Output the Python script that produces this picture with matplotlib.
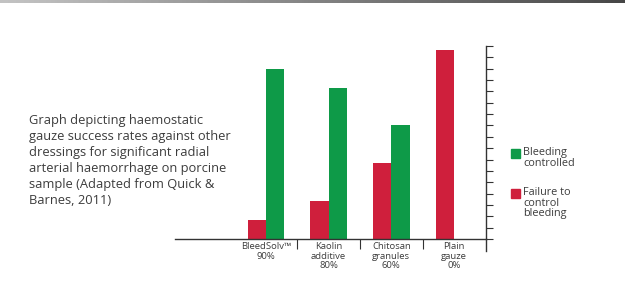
import numpy as np
from matplotlib import pyplot as plt
from matplotlib.patches import Rectangle

# Data (percent of samples)
categories = ["BleedSolv\u2122\n90%", "Kaolin\nadditive\n80%", "Chitosan\ngranules\n60%", "Plain\ngauze\n0%"]
failure = [10, 20, 40, 100]
controlled = [90, 80, 60, 0]
series_names = ["Bleeding\ncontrolled", "Failure to\ncontrol\nbleeding"]
caption = ("Graph depicting haemostatic\ngauze success rates against other\n"
           "dressings for significant radial\narterial haemorrhage on porcine\n"
           "sample (Adapted from Quick &\nBarnes, 2011)")

GREEN = "#0e9a48"
RED = "#cf1f3c"
TEXT = "#3c3c3c"
FONT = "Open Sans"

fig = plt.figure(figsize=(6.25, 2.88), dpi=100)
fig.patch.set_facecolor("white")

# thin grey gradient strip at very top
top = fig.add_axes([0, 1 - 3 / 288, 1, 3 / 288])
top.imshow(np.linspace(0, 1, 256)[None, :], aspect="auto", cmap="Greys", vmin=-0.8, vmax=1.5)
top.axis("off")

ax = fig.add_axes([175 / 625, 1 - 239 / 288, (486 - 175) / 625, (239 - 46) / 288])
x = np.arange(len(categories))
w = 0.29
ax.bar(x - w / 2, failure, w, color=RED)
ax.bar(x + w / 2, controlled, w, color=GREEN)

ax.set_xlim(-1.45, 3.51)
ax.set_ylim(0, 102)

# spines: baseline and right axis only
ax.spines["left"].set_visible(False)
ax.spines["top"].set_visible(False)
for s in ("bottom", "right"):
    ax.spines[s].set_color("#333333")
    ax.spines[s].set_linewidth(1.0)
ax.spines["right"].set_bounds(0, 102)
# right axis extends a little below the baseline
ax.plot([1, 1], [0, -0.06], transform=ax.transAxes, color="#333333", lw=1.0, clip_on=False)

ax.yaxis.tick_right()
ax.set_yticks(np.arange(0, 103, 6))
ax.tick_params(axis="y", direction="out", length=5, width=0.8, color="#333333", labelright=False)

ax.set_xticks(x)
ax.set_xticklabels(categories, fontsize=6.8, family=FONT, color=TEXT, linespacing=1.12)
ax.tick_params(axis="x", which="major", length=0, pad=2)
ax.set_xticks([0.5, 1.5, 2.5], minor=True)
ax.tick_params(axis="x", which="minor", direction="out", length=7.5, width=0.8, color="#333333")

# caption on the left
fig.text(29 / 625, 1 - 114 / 288, caption, ha="left", va="top", fontsize=9.3,
         family=FONT, color=TEXT, linespacing=1.3)

# legend, drawn by hand
for i, (name, col) in enumerate(zip(series_names, [GREEN, RED])):
    y0 = [149, 189][i]
    fig.patches.append(Rectangle((511 / 625, 1 - (y0 + 8.5) / 288), 9 / 625, 8.5 / 288,
                                 transform=fig.transFigure, color=col))
    fig.text(523 / 625, 1 - (y0 - 2) / 288, name, ha="left", va="top", fontsize=7.8,
             family=FONT, color=TEXT, linespacing=0.95)

plt.savefig("out.png", dpi=100)
plt.close()
